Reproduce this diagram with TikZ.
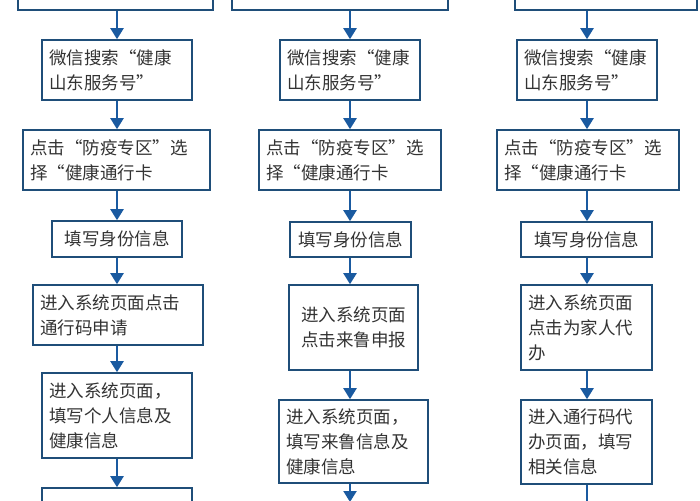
\documentclass[tikz,border=0pt]{standalone}
\usepackage{fontspec}
\setmainfont{Noto Sans CJK SC}
\usetikzlibrary{arrows.meta}
\definecolor{bd}{HTML}{1F4E79}
\definecolor{ar}{HTML}{1A5AA0}
\definecolor{tx}{HTML}{333333}
\tikzset{
 bx/.style={draw=bd,line width=1.6pt,fill=white,text=tx,align=left,inner sep=0pt,font=\fontsize{17.5}{25}\selectfont},
 ar/.style={draw=ar,line width=2.2pt,-{Triangle[width=13pt,length=11pt]}}
}
% \bb[opts]{name}{x1}{x2}{y1}{y2}{text}
\newcommand{\bb}[7][]{\node[bx,minimum width={#4-#3},minimum height={#6-#5},text width={#4-#3-14},#1] (#2) at ({(#3+#4)/2},{(#5+#6)/2}) {#7};}
\begin{document}
\begin{tikzpicture}[x=1pt,y=-1pt]
\useasboundingbox (0,0) rectangle (700,500);
\fill[white] (0,0) rectangle (700,500);
% column 1
\bb{a0}{18}{213}{-40}{10}{}
\bb{a1}{42}{192}{40}{100}{微信搜索“健康\\山东服务号”}
\bb{a2}{23}{210}{130}{190}{点击“防疫专区”选\\择“健康通行卡}
\bb[align=center]{a3}{52}{182}{221}{257}{填写身份信息}
\bb{a4}{33}{203}{285}{345}{进入系统页面点击\\通行码申请}
\bb{a5}{42}{192}{373}{458}{进入系统页面，\\填写个人信息及\\健康信息}
\bb{a6}{42}{192}{488}{540}{}
% column 2
\bb{b0}{232}{448}{-40}{10}{}
\bb{b1}{280}{420}{40}{100}{微信搜索“健康\\山东服务号”}
\bb{b2}{259}{441}{130}{190}{点击“防疫专区”选\\择“健康通行卡}
\bb[align=center]{b3}{290}{411}{222}{257}{填写身份信息}
\bb[align=center]{b4}{289}{418}{285}{370}{进入系统页面\\点击来鲁申报}
\bb{b5}{279}{428}{400}{483}{进入系统页面，\\填写来鲁信息及\\健康信息}
\coordinate (b6) at (350,502);
% column 3
\bb{c0}{515}{697}{-40}{10}{}
\bb{c1}{517}{657}{40}{100}{微信搜索“健康\\山东服务号”}
\bb{c2}{497}{679}{130}{190}{点击“防疫专区”选\\择“健康通行卡}
\bb[align=center]{c3}{521}{652}{222}{257}{填写身份信息}
\bb{c4}{521}{652}{285}{370}{进入系统页面\\点击为家人代\\办}
\bb{c5}{521}{652}{400}{484}{进入通行码代\\办页面，填写\\相关信息}
\coordinate (c6) at (587,502);
% arrows
\foreach \i/\j in {0/1,1/2,2/3,3/4,4/5,5/6}{
 \draw[ar] (a\i.south -| 117,0) -- (a\j.north -| 117,0);
 \draw[ar] (b\i.south -| 350,0) -- (b\j.north -| 350,0);
}
\foreach \i/\j in {0/1,1/2,2/3,3/4,4/5}{
 \draw[ar] (c\i.south -| 587,0) -- (c\j.north -| 587,0);
}
\draw[draw=ar,line width=2.2pt] (c5.south -| 587,0) -- (c6);
\end{tikzpicture}
\end{document}
